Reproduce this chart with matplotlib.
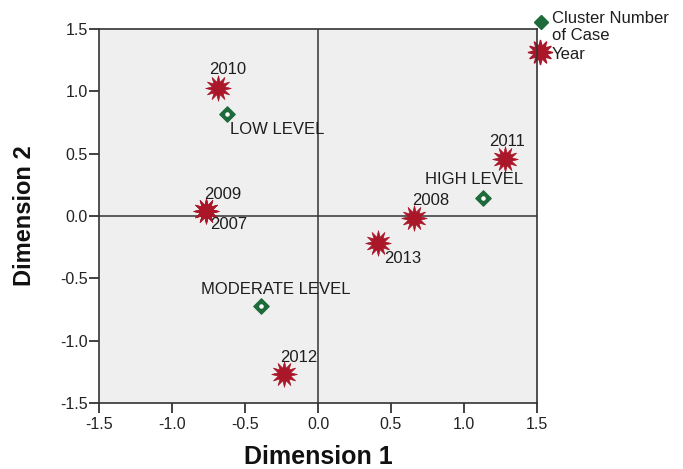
import matplotlib.pyplot as plt

plt.rcParams['font.family'] = ['Liberation Sans', 'DejaVu Sans']
plt.rcParams['axes.unicode_minus'] = False

# cluster centroids
cluster_names = ['LOW LEVEL', 'HIGH LEVEL', 'MODERATE LEVEL']
cluster_x = [-0.62, 1.13, -0.39]
cluster_y = [0.82, 0.145, -0.72]

# years
year_names = ['2010', '2009', '2007', '2011', '2008', '2013', '2012']
year_x = [-0.685, -0.77, -0.77, 1.28, 0.66, 0.41, -0.23]
year_y = [1.03, 0.04, 0.04, 0.46, -0.02, -0.22, -1.27]

# label offsets in pixels
cluster_off = [(3, -16), (-58, 18), (-60, 16)]
year_off = [(-9, 18), (-1, 17), (5, -13), (-16, 17), (-2, 18), (6, -15), (-4, 17)]

star_col = '#aa1729'
dia_col = '#1d6b3b'
star_marker = (12, 1, 0)
txt_col = '#1e1e1e'

fig = plt.figure(figsize=(6.83, 4.69), dpi=100)
ax = fig.add_axes([99 / 683, 1 - 403 / 469, 438 / 683, 374 / 469])
ax.set_facecolor('#efefef')

ax.axhline(0, color='#333333', lw=1.1, zorder=1)
ax.axvline(0, color='#333333', lw=1.1, zorder=1)

ax.scatter(year_x, year_y, marker=star_marker, s=340, color=star_col, edgecolors=star_col, lw=0.5, zorder=3)
ax.scatter(cluster_x, cluster_y, marker='D', s=60, color=dia_col, edgecolors=dia_col, zorder=3)
ax.scatter(cluster_x, cluster_y, marker='o', s=5, color='white', zorder=4)

for name, x, y, off in zip(year_names, year_x, year_y, year_off):
    ax.annotate(name, (x, y), xytext=off, textcoords='offset pixels', fontsize=12,
                ha='left', va='center', color=txt_col, zorder=5)
for name, x, y, off in zip(cluster_names, cluster_x, cluster_y, cluster_off):
    ax.annotate(name, (x, y), xytext=off, textcoords='offset pixels', fontsize=12,
                ha='left', va='center', color=txt_col, zorder=5)

ax.set_xlim(-1.5, 1.5)
ax.set_ylim(-1.5, 1.5)
ticks = [-1.5, -1.0, -0.5, 0.0, 0.5, 1.0, 1.5]
ax.set_xticks(ticks)
ax.set_yticks(ticks)
ax.set_xticklabels(['%.1f' % t for t in ticks])
ax.set_yticklabels(['%.1f' % t for t in ticks])
ax.tick_params(direction='out', length=7.5, width=1.2, labelsize=11.5, colors='#222222')
ax.tick_params(axis='y', pad=0.5)
ax.tick_params(axis='x', pad=2.5)
for sp in ax.spines.values():
    sp.set_color('#333333')
    sp.set_linewidth(1.2)

ax.set_xlabel('Dimension 1', fontsize=18, fontweight='bold', va='center', color='#111111')
ax.xaxis.set_label_coords(0.5, -0.145)
ax.set_ylabel('Dimension 2', fontsize=17, fontweight='bold', va='center', ha='center', color='#111111')
ax.yaxis.set_label_coords(-0.171, 0.5)

# legend, drawn by hand outside the top right corner
ax.plot([1.0096], [1.0187], marker='D', ls='none', color=dia_col, markersize=7.5,
        transform=ax.transAxes, clip_on=False)
ax.plot([1.0075], [0.9385], marker=star_marker, ls='none', color=star_col, markersize=18,
        transform=ax.transAxes, clip_on=False)
ax.text(1.034, 1.0294, 'Cluster Number', transform=ax.transAxes, fontsize=12,
        va='center', ha='left', color=txt_col)
ax.text(1.034, 0.9813, 'of Case', transform=ax.transAxes, fontsize=12,
        va='center', ha='left', color=txt_col)
ax.text(1.034, 0.9305, 'Year', transform=ax.transAxes, fontsize=12,
        va='center', ha='left', color=txt_col)

fig.savefig('out.png', dpi=100)
